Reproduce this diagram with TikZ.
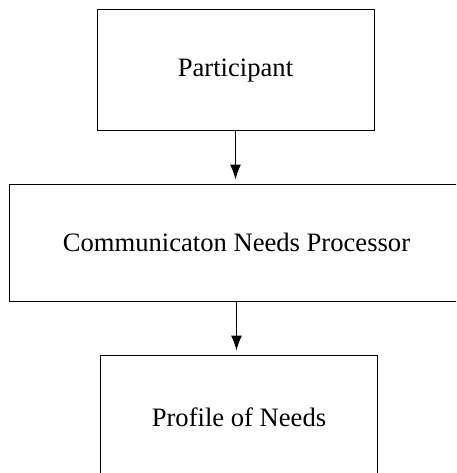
\documentclass[tikz,border=0pt]{standalone}
\usepackage{fontspec}
\setmainfont{Liberation Serif}
\usetikzlibrary{arrows.meta}

\tikzset{
  stage/.style={draw, line width=1pt, inner sep=0pt, font=\fontsize{26.6}{30}\selectfont}
}

\begin{document}
\begin{tikzpicture}[x=1pt,y=-1pt]
            \useasboundingbox (0,0) rectangle (456,473);
            \clip (0,0) rectangle (456,473);

            \node[stage, minimum width=277pt, minimum height=121pt] (part) at (235.5,70.5) {Participant};
            \node[stage, minimum width=454pt, minimum height=117pt] (proc) at (236.5,242.5) {Communicaton Needs Processor};
            \node[stage, minimum width=277pt, minimum height=124pt] (prof) at (239,417) {Profile of Needs};

            \draw[->,>={Latex[length=15pt,width=11pt]}, line width=1pt, shorten >=4pt] (part.south) -- (part.south |- proc.north);
            \draw[->,>={Latex[length=15pt,width=11pt]}, line width=1pt, shorten >=4pt] (proc.south) -- (proc.south |- prof.north);
        \end{tikzpicture}
\end{document}
